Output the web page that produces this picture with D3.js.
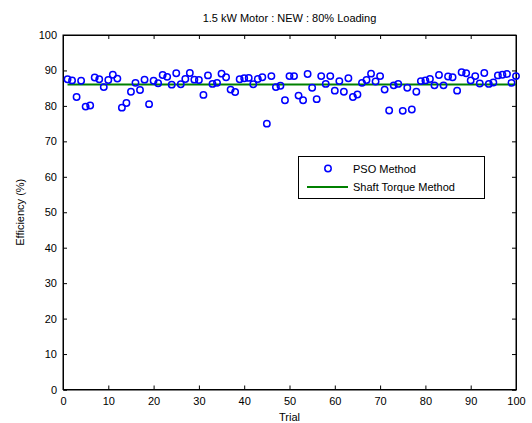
<!DOCTYPE html>
<html><head><meta charset="utf-8">
<script src="https://cdn.jsdelivr.net/npm/d3@7"></script>
<style>
body{margin:0;background:#fff;}
svg{display:block;font-family:"Liberation Sans",Arial,sans-serif;}
</style></head>
<body><svg id="c" width="532" height="423"></svg>
<script>
const title = "1.5 kW Motor : NEW : 80% Loading";
const xLabel = "Trial";
const yLabel = "Efficiency (%)";
const trials = d3.range(1, 101);
const psoValues = [
87.5,87.2,82.5,87.1,79.8,80.1,88.0,87.5,85.3,87.3,
88.8,87.7,79.5,80.8,84.0,86.5,84.5,87.4,80.5,87.1,
86.4,88.7,88.2,86.0,89.2,86.1,87.6,89.3,87.4,87.3,
83.1,88.6,86.2,86.5,89.1,88.1,84.6,83.9,87.5,87.8,
87.9,86.1,87.6,88.1,75.0,88.4,85.3,85.7,81.6,88.4,
88.4,82.9,81.6,89.0,85.1,81.9,88.4,86.2,88.4,84.3,
87.0,84.0,87.8,82.5,83.2,86.5,87.3,89.1,86.9,88.4,
84.6,78.7,85.8,86.2,78.6,85.1,79.0,84.0,87.0,87.2,
87.6,85.8,88.7,85.8,88.3,88.1,84.3,89.5,89.2,87.2,
88.4,86.3,89.3,86.2,86.6,88.6,88.8,89.0,86.5,88.4];
const shaftTorqueValue = 86.05;
const shaftTrials = [1, 100];
const xTicks = [0,10,20,30,40,50,60,70,80,90,100];
const yTicks = [0,10,20,30,40,50,60,70,80,90,100];
const legendLabels = ["PSO Method", "Shaft Torque Method"];

const svg = d3.select("#c");
const L = 63, R = 516, T = 35, B = 389.5;
const x = d3.scaleLinear().domain([0,100]).range([L,R]);
const y = d3.scaleLinear().domain([0,100]).range([B,T]);

// frame
svg.append("rect").attr("x",L).attr("y",T).attr("width",R-L).attr("height",B-T)
  .attr("fill","#fff").attr("stroke","#000").attr("stroke-width",1);

const tl = 4;
// axes with inner ticks
const gx = svg.append("g").attr("transform",`translate(0,${B})`)
  .call(d3.axisBottom(x).tickValues(xTicks).tickSize(-tl).tickPadding(8).tickFormat(d3.format("d")));
const gxTop = svg.append("g").attr("transform",`translate(0,${T})`)
  .call(d3.axisTop(x).tickValues(xTicks).tickSize(-tl).tickFormat(""));
const gy = svg.append("g").attr("transform",`translate(${L},0)`)
  .call(d3.axisLeft(y).tickValues(yTicks).tickSize(-tl).tickPadding(6).tickFormat(d3.format("d")));
const gyR = svg.append("g").attr("transform",`translate(${R},0)`)
  .call(d3.axisRight(y).tickValues(yTicks).tickSize(-tl).tickFormat(""));
[gx,gxTop,gy,gyR].forEach(g=>{
  g.select(".domain").attr("stroke","#000");
  g.selectAll(".tick line").attr("stroke","#000");
  g.selectAll("text").attr("font-size","11px").attr("fill","#000").attr("font-family","'Liberation Sans',Arial,sans-serif");
});

// shaft torque line
svg.append("line")
  .attr("x1",x(shaftTrials[0])).attr("x2",x(shaftTrials[1]))
  .attr("y1",y(shaftTorqueValue)).attr("y2",y(shaftTorqueValue))
  .attr("stroke","#008000").attr("stroke-width",2);

// PSO circles
svg.append("g").selectAll("circle").data(psoValues).join("circle")
  .attr("cx",(d,i)=>x(trials[i])).attr("cy",d=>y(d)).attr("r",3.2)
  .attr("fill","none").attr("stroke","#0000ff").attr("stroke-width",1.5);

// title & labels
svg.append("text").attr("x",(L+R)/2).attr("y",22).attr("text-anchor","middle")
  .attr("font-size","11px").text(title);
svg.append("text").attr("x",(L+R)/2).attr("y",421).attr("text-anchor","middle")
  .attr("font-size","11px").text(xLabel);
svg.append("text").attr("transform",`translate(24,${(T+B)/2}) rotate(-90)`)
  .attr("text-anchor","middle").attr("font-size","11px").text(yLabel);

// legend
const lg = svg.append("g");
lg.append("rect").attr("x",298.5).attr("y",156.5).attr("width",186).attr("height",42)
  .attr("fill","#fff").attr("stroke","#000").attr("stroke-width",1);
lg.append("circle").attr("cx",328).attr("cy",168.5).attr("r",3.2)
  .attr("fill","none").attr("stroke","#0000ff").attr("stroke-width",1.5);
lg.append("line").attr("x1",307).attr("x2",348).attr("y1",187).attr("y2",187)
  .attr("stroke","#008000").attr("stroke-width",2);
lg.append("text").attr("x",353).attr("y",172.5).attr("font-size","11px").text(legendLabels[0]);
lg.append("text").attr("x",353).attr("y",191).attr("font-size","11px").text(legendLabels[1]);
</script></body></html>
